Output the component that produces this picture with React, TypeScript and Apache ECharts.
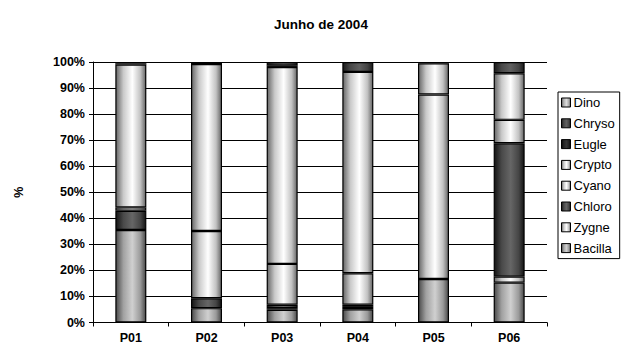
import React, { useEffect, useRef } from "react";
import * as echarts from "echarts";

// Sampling points (stations)
const categories = ["P01", "P02", "P03", "P04", "P05", "P06"];

// Relative share (%) of each algal group per station, stacked bottom to top
const bacilla = [35.5, 5.5, 4.9, 5.1, 16.7, 15.3];
const zygne = [0, 0, 0.6, 0.9, 0, 2.3];
const chloro = [7.4, 3.8, 1.3, 0.8, 0, 51.2];
const cyano = [1.3, 25.8, 15.7, 12.1, 70.8, 9.0];
const crypto = [54.8, 64.1, 75.6, 77.3, 12.0, 17.9];
const eugle = [0.5, 0.8, 0.5, 0, 0.5, 0];
const chryso = [0.5, 0, 1.4, 3.8, 0, 4.3];
const dino = [0, 0, 0, 0, 0, 0];

const seriesNames = ["Bacilla", "Zygne", "Chloro", "Cyano", "Crypto", "Eugle", "Chryso", "Dino"];
const seriesValues = [bacilla, zygne, chloro, cyano, crypto, eugle, chryso, dino];
const legendOrder = [...seriesNames].reverse();

// Edge / centre tones of each group's cylindrical shading
const shades: Record<string, [string, string]> = {
  Bacilla: ["#4a4a4a", "#d0d0d0"],
  Zygne: ["#666666", "#ffffff"],
  Chloro: ["#141414", "#666666"],
  Cyano: ["#666666", "#ffffff"],
  Crypto: ["#666666", "#ffffff"],
  Eugle: ["#050505", "#363636"],
  Chryso: ["#1a1a1a", "#606060"],
  Dino: ["#5e5e5e", "#dcdcdc"],
};

const font = "'Liberation Sans', Arial, sans-serif";

function mix(a: string, b: string, t: number) {
  const pa = [1, 3, 5].map((k) => parseInt(a.slice(k, k + 2), 16));
  const pb = [1, 3, 5].map((k) => parseInt(b.slice(k, k + 2), 16));
  const c = pa.map((v, k) => Math.round(v + (pb[k] - v) * t));
  return "#" + c.map((v) => v.toString(16).padStart(2, "0")).join("");
}

function shade(name: string) {
  const [edge, centre] = shades[name];
  return {
    type: "linear",
    x: 0,
    y: 0,
    x2: 1,
    y2: 0,
    colorStops: [
      { offset: 0, color: edge },
      { offset: 0.25, color: mix(edge, centre, 0.65) },
      { offset: 0.55, color: centre },
      { offset: 0.82, color: mix(edge, centre, 0.6) },
      { offset: 1, color: edge },
    ],
  };
}

export default function App() {
  const ref = useRef<HTMLDivElement>(null);

  useEffect(() => {
    if (!ref.current) return;
    const chart = echarts.init(ref.current, null, { renderer: "svg" });
    chart.setOption({
      animation: false,
      backgroundColor: "#ffffff",
      title: {
        text: "Junho de 2004",
        left: 316,
        top: 12,
        textAlign: "center",
        textStyle: { fontFamily: font, fontSize: 13.5, fontWeight: "bold", color: "#000" },
      },
      legend: {
        orient: "vertical",
        left: 558,
        top: 92,
        data: legendOrder,
        icon: "rect",
        itemWidth: 9,
        itemHeight: 9,
        itemGap: 7.8,
        padding: [4, 5, 4, 3],
        borderColor: "#000",
        borderWidth: 1,
        textStyle: { fontFamily: font, fontSize: 13, color: "#000", lineHeight: 13, padding: [0, 0, 0, -2] },
        itemStyle: { borderColor: "#000", borderWidth: 1 },
      },
      grid: { left: 93, top: 62, right: 76, bottom: 27.5, containLabel: false },
      xAxis: {
        type: "category",
        data: categories,
        axisLine: { lineStyle: { color: "#000", width: 1 } },
        axisTick: { show: true, alignWithLabel: false, length: 4, lineStyle: { color: "#000" } },
        axisLabel: { fontFamily: font, fontSize: 12.5, fontWeight: "bold", color: "#000", margin: 9 },
      },
      yAxis: {
        type: "value",
        min: 0,
        max: 100,
        interval: 10,
        name: "%",
        nameLocation: "middle",
        nameRotate: 90,
        nameGap: 68,
        nameTextStyle: { fontFamily: font, fontSize: 12.5, fontWeight: "bold", color: "#000" },
        axisLine: { show: true, lineStyle: { color: "#000", width: 1 } },
        axisTick: { show: true, length: 4, lineStyle: { color: "#000" } },
        splitLine: { show: true, lineStyle: { color: "#000", width: 1 } },
        axisLabel: {
          fontFamily: font,
          fontSize: 12.5,
          fontWeight: "bold",
          color: "#000",
          margin: 8,
          formatter: (v: number) => `${v}%`,
        },
      },
      series: seriesNames.map((name, i) => ({
        name,
        type: "bar",
        stack: "total",
        barWidth: 31,
        data: seriesValues[i].map((v) => (v > 0 ? v : null)),
        itemStyle: { color: shade(name), borderColor: "#000", borderWidth: 1.2 },
        emphasis: { disabled: true },
      })),
    });
    return () => chart.dispose();
  }, []);

  return (
    <div
      ref={ref}
      style={{ position: "fixed", left: 0, top: 0, width: 623, height: 350 }}
    />
  );
}
